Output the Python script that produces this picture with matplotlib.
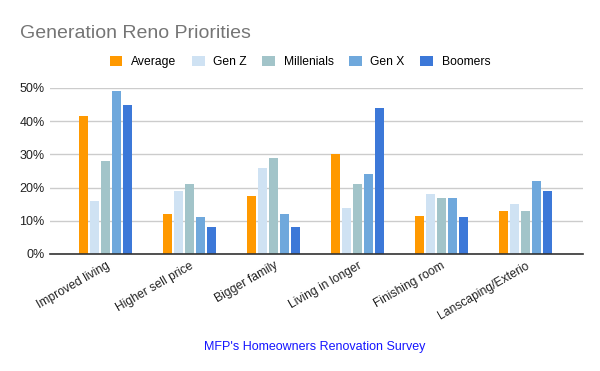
import matplotlib
matplotlib.use("Agg")
import matplotlib.pyplot as plt
import matplotlib.transforms as mtransforms
import numpy as np
from matplotlib.patches import Patch

plt.rcParams['font.family'] = ['Liberation Sans', 'DejaVu Sans']

categories = ["Improved living", "Higher sell price", "Bigger family",
              "Living in longer", "Finishing room", "Lanscaping/Exterio"]
series_names = ["Average", "Gen Z", "Millenials", "Gen X", "Boomers"]
average = [41.6, 12, 17.5, 30, 11.4, 13]
gen_z = [16, 19, 26, 14, 18, 15]
millenials = [28, 21, 29, 21, 17, 13]
gen_x = [49, 11, 12, 24, 17, 22]
boomers = [45, 8, 8, 44, 11, 19]
colors = ["#ff9900", "#cfe2f3", "#a2c4c9", "#6fa8dc", "#3c78d8"]
yticks = [0, 10, 20, 30, 40, 50]

fig = plt.figure(figsize=(6, 3.71), dpi=100)
ax = fig.add_axes([50/600, 1-254/371, 533/600, 166/371])

data = [average, gen_z, millenials, gen_x, boomers]
x = np.arange(len(categories))
pitch = 0.131
width = 0.107
for i, (vals, c) in enumerate(zip(data, colors)):
    ax.bar(x + (i - 2) * pitch, np.array(vals) / 100, width=width, color=c,
           zorder=3, label=series_names[i])

ax.set_xlim(-0.667, 5.69)
ax.set_ylim(0, 0.5)
ax.set_yticks([v / 100 for v in yticks])
ax.set_yticklabels([f"{v}%" for v in yticks], fontsize=9, color="#222222")
ax.yaxis.grid(True, color="#cccccc", linewidth=1, zorder=0)
ax.set_xticks(x)
ax.set_xticklabels(categories, rotation=30, ha="right", rotation_mode="anchor",
                   fontsize=8.7, color="#222222")
offset = mtransforms.ScaledTranslation(9/100, -3/100, fig.dpi_scale_trans)
for lbl in ax.get_xticklabels():
    lbl.set_transform(lbl.get_transform() + offset)
ax.tick_params(axis="both", length=0, pad=4)
for s in ["top", "right", "left"]:
    ax.spines[s].set_visible(False)
ax.spines["bottom"].set_color("#333333")
ax.spines["bottom"].set_linewidth(1.2)
ax.spines["bottom"].set_zorder(4)

fig.text(20/600, 1-38.5/371, "Generation Reno Priorities", fontsize=14,
         color="#757575", va="baseline", ha="left")

handles = [Patch(facecolor=c, edgecolor="none") for c in colors]
fig.legend(handles, series_names, loc="center", bbox_to_anchor=(0.5, 1-62/371),
           ncol=5, frameon=False, fontsize=8.7, handlelength=1.05, handleheight=0.9,
           handletextpad=0.7, columnspacing=1.3)

fig.text(315/600, 1-350/371, "MFP's Homeowners Renovation Survey", fontsize=9,
         color="#1515ff", ha="center", va="baseline")

fig.savefig("out.png", dpi=100)
